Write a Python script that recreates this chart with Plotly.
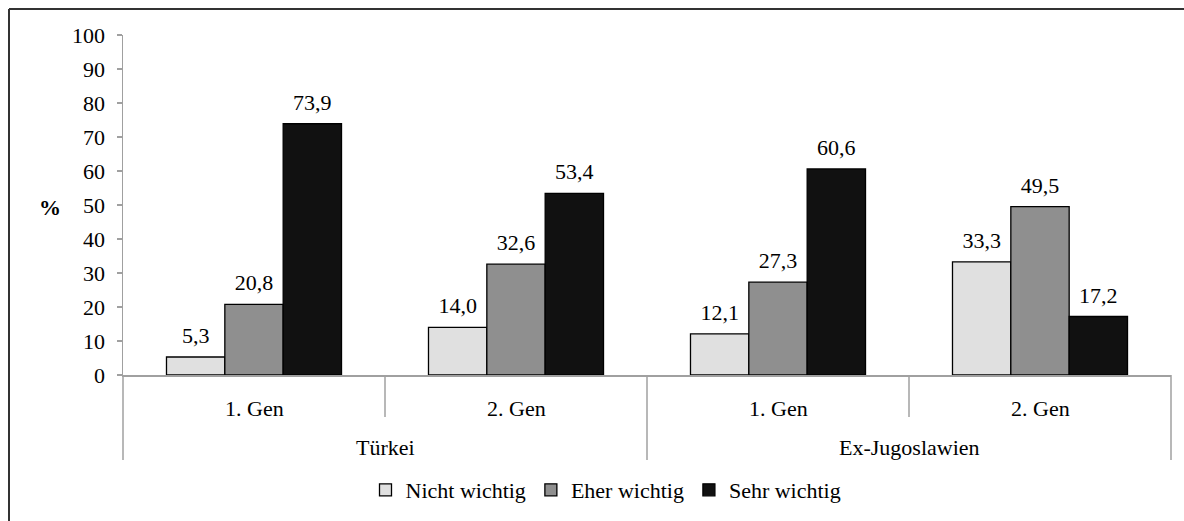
import plotly.graph_objects as go

# ---- data ----
regions = ["Türkei", "Türkei", "Ex-Jugoslawien", "Ex-Jugoslawien"]
generations = ["1. Gen", "2. Gen", "1. Gen", "2. Gen"]
region_labels = ["Türkei", "Ex-Jugoslawien"]
series_names = ["Nicht wichtig", "Eher wichtig", "Sehr wichtig"]
nicht_wichtig = [5.3, 14.0, 12.1, 33.3]
eher_wichtig = [20.8, 32.6, 27.3, 49.5]
sehr_wichtig = [73.9, 53.4, 60.6, 17.2]
y_ticks = [0, 10, 20, 30, 40, 50, 60, 70, 80, 90, 100]

series_values = [nicht_wichtig, eher_wichtig, sehr_wichtig]
colors = ["#e0e0e0", "#8f8f8f", "#111111"]

W, H = 1184, 521
L, R, T, B = 123, 13, 35, 146
pw, ph = W - L - R, H - T - B
FONT = "Liberation Serif"
FS = 22
AXIS_GREY = "#a0a0a0"
GAP = 0.332

def px_x(px):
    return (px - L) / pw

def px_y(py):
    return (H - B - py) / ph

x = [regions, generations]
fig = go.Figure()
for name, vals, col in zip(series_names, series_values, colors):
    fig.add_trace(go.Bar(
        x=x, y=vals, name=name,
        marker=dict(color=col, line=dict(color="#000000", width=1.3)),
        hoverinfo="skip",
    ))
for name, vals in zip(series_names, series_values):
    fig.add_trace(go.Scatter(
        x=x, y=vals, mode="markers+text",
        marker=dict(size=12, opacity=0),
        text=vals, texttemplate="%{y:.1f}", textposition="top center",
        textfont=dict(family=FONT, size=FS, color="#000000"),
        showlegend=False, hoverinfo="skip", cliponaxis=False,
    ))

n_cat = len(generations)
n_reg = len(region_labels)
shapes = []
annotations = []
# inner category labels and separators
for i, g in enumerate(generations):
    annotations.append(dict(text=g, xref="paper", yref="paper",
                            x=(i + 0.5) / n_cat, y=0, xanchor="center",
                            yanchor="middle", yshift=-33, showarrow=False,
                            font=dict(family=FONT, size=FS, color="#000000")))
for i in range(n_cat + 1):
    full = (i % (n_cat // n_reg) == 0)
    shapes.append(dict(type="line", xref="paper", yref="paper",
                       ysizemode="pixel", yanchor=0, y0=0,
                       y1=-85 if full else -42,
                       x0=i / n_cat, x1=i / n_cat,
                       line=dict(color=AXIS_GREY, width=1.5)))
# outer category labels
for j, r in enumerate(region_labels):
    annotations.append(dict(text=r, xref="paper", yref="paper",
                            x=(j + 0.5) / n_reg, y=0, xanchor="center",
                            yanchor="middle", yshift=-72, showarrow=False,
                            font=dict(family=FONT, size=FS, color="#000000")))
# % label
annotations.append(dict(text="<b>%</b>", xref="paper", yref="paper",
                        x=px_x(50), y=px_y(207), xanchor="center",
                        yanchor="middle", showarrow=False,
                        font=dict(family=FONT, size=FS, color="#000000")))
# figure frame (left and top; reference is cropped on the other sides)
shapes.append(dict(type="line", xref="paper", yref="paper",
                   x0=px_x(9), x1=px_x(W + 5), y0=px_y(9), y1=px_y(9),
                   line=dict(color="#333333", width=2)))
shapes.append(dict(type="line", xref="paper", yref="paper",
                   x0=px_x(9), x1=px_x(9), y0=px_y(9), y1=px_y(H + 5),
                   line=dict(color="#333333", width=2)))

fig.update_layout(
    width=W, height=H,
    margin=dict(l=L, r=R, t=T, b=B, autoexpand=False),
    paper_bgcolor="white", plot_bgcolor="white",
    font=dict(family=FONT, size=FS, color="#000000"),
    separators=",.",
    barmode="group", bargap=GAP, bargroupgap=0,
    scattermode="group", scattergap=GAP,
    showlegend=True,
    legend=dict(orientation="h", x=px_x(606), xanchor="center",
                y=px_y(490), yanchor="middle",
                font=dict(family=FONT, size=FS, color="#000000"),
                traceorder="normal", itemclick=False),
    shapes=shapes,
    annotations=annotations,
)
fig.update_yaxes(range=[0, 100], tickvals=y_ticks, ticks="outside", ticklen=5,
                 tickcolor=AXIS_GREY, tickwidth=1.5, showline=True,
                 linecolor=AXIS_GREY, linewidth=1.5, showgrid=False,
                 zeroline=False, ticklabelstandoff=7, fixedrange=True,
                 automargin=False,
                 tickfont=dict(family=FONT, size=FS, color="#000000"))
fig.update_xaxes(type="multicategory", showline=True, linecolor=AXIS_GREY,
                 linewidth=1.5, ticks="", showgrid=False, showdividers=False,
                 showticklabels=False, fixedrange=True, automargin=False)

fig.write_html("out.html",
               config={"displayModeBar": False, "staticPlot": True},
               post_script="document.body.style.margin='0';"
                           "document.body.style.overflow='hidden';")
